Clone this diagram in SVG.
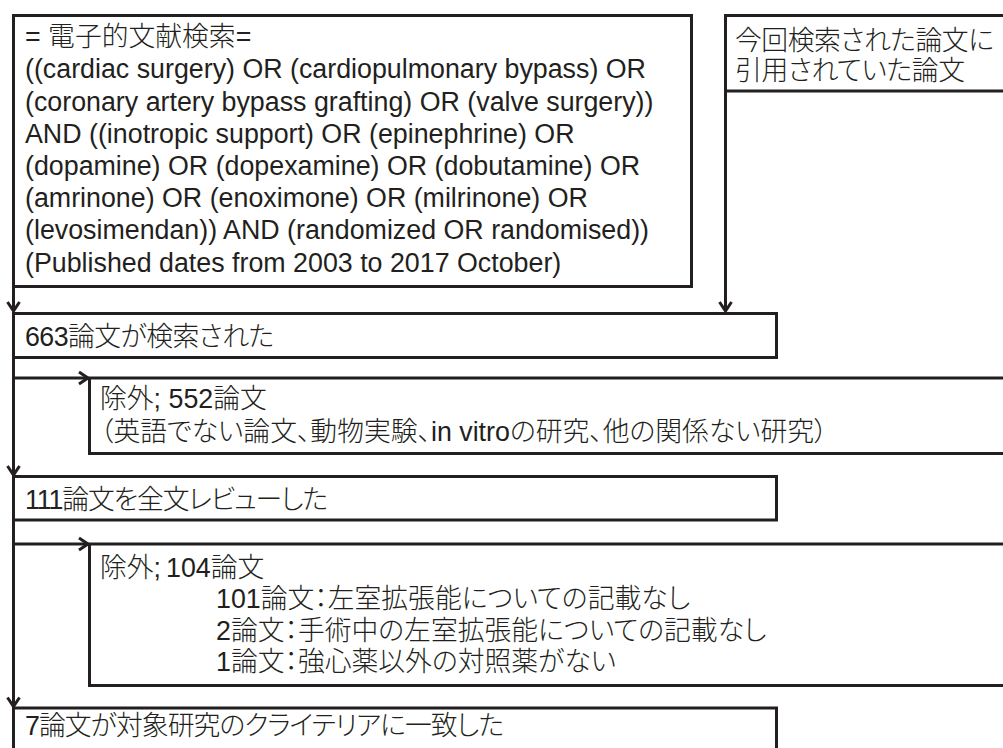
<svg xmlns="http://www.w3.org/2000/svg" width="1003" height="748" viewBox="0 0 1003 748">
<style>
.box{fill:#fff;stroke:#231f20;stroke-width:3}
.t{font-family:"Liberation Sans","Noto Sans CJK JP",sans-serif;font-size:26.8px;font-weight:300;fill:#231f20;font-feature-settings:"palt"}
.c{fill:none;stroke:#231f20;stroke-width:3}
</style>
<defs>
<marker id="ah" markerUnits="userSpaceOnUse" orient="auto" overflow="visible" refX="0" refY="0" markerWidth="20" markerHeight="20">
<path d="M-9,-6 L0,0 L-9,6" fill="none" stroke="#231f20" stroke-width="3"/>
</marker>
</defs>
<rect width="1003" height="748" fill="#fff"/>
<g id="connectors">
<path class="c" d="M13.5,286.5 V311" marker-end="url(#ah)"/>
<path class="c" d="M725.5,91 V311" marker-end="url(#ah)"/>
<path class="c" d="M13.5,357.5 V475" marker-end="url(#ah)"/>
<path class="c" d="M13.5,378 H88" marker-end="url(#ah)"/>
<path class="c" d="M13.5,520 V706.5" marker-end="url(#ah)"/>
<path class="c" d="M13.5,544 H88" marker-end="url(#ah)"/>
</g>
<g id="search">
<rect class="box" x="13.5" y="15.5" width="678" height="271"/>
<text class="t" x="25" y="46.3">= 電子的文献検索=</text>
<text class="t" x="25" y="78.3">((cardiac surgery) OR (cardiopulmonary bypass) OR</text>
<text class="t" x="25" y="110.5">(coronary artery bypass grafting) OR (valve surgery))</text>
<text class="t" x="25" y="142.7">AND ((inotropic support) OR (epinephrine) OR</text>
<text class="t" x="25" y="174.9">(dopamine) OR (dopexamine) OR (dobutamine) OR</text>
<text class="t" x="25" y="207.1">(amrinone) OR (enoximone) OR (milrinone) OR</text>
<text class="t" x="25" y="239.3">(levosimendan)) AND (randomized OR randomised))</text>
<text class="t" x="25" y="271.5">(Published dates from 2003 to 2017 October)</text>
</g>
<g id="cited">
<rect class="box" x="725.5" y="15.5" width="300" height="75.5"/>
<text class="t" x="735" y="50" textLength="259" lengthAdjust="spacing">今回検索された論文に</text>
<text class="t" x="735" y="80" textLength="230" lengthAdjust="spacing">引用されていた論文</text>
</g>
<g id="found">
<rect class="box" x="13.5" y="313.5" width="763" height="44"/>
<text class="t" x="25" y="346" textLength="249" lengthAdjust="spacing">663論文が検索された</text>
</g>
<g id="excluded1">
<rect class="box" x="89.5" y="378" width="930" height="75.5"/>
<text class="t" x="100" y="408">除外; 552論文</text>
<text class="t" x="100" y="441">（英語でない論文、動物実験、in vitroの研究、他の関係ない研究）</text>
</g>
<g id="reviewed">
<rect class="box" x="13.5" y="476.5" width="763" height="43.5"/>
<text class="t" x="25" y="509" textLength="303" lengthAdjust="spacing">111論文を全文レビューした</text>
</g>
<g id="excluded2">
<rect class="box" x="89.5" y="544" width="930" height="141.5"/>
<text class="t" x="100" y="576.5">除外;<tspan dx="5">104論文</tspan></text>
<text class="t" x="216" y="608">101論文：左室拡張能についての記載なし</text>
<text class="t" x="216" y="640">2論文：手術中の左室拡張能についての記載なし</text>
<text class="t" x="216" y="671">1論文：強心薬以外の対照薬がない</text>
</g>
<g id="included">
<rect class="box" x="13.5" y="708" width="763" height="60"/>
<text class="t" x="25" y="735" textLength="479" lengthAdjust="spacing">7論文が対象研究のクライテリアに一致した</text>
</g>
</svg>
